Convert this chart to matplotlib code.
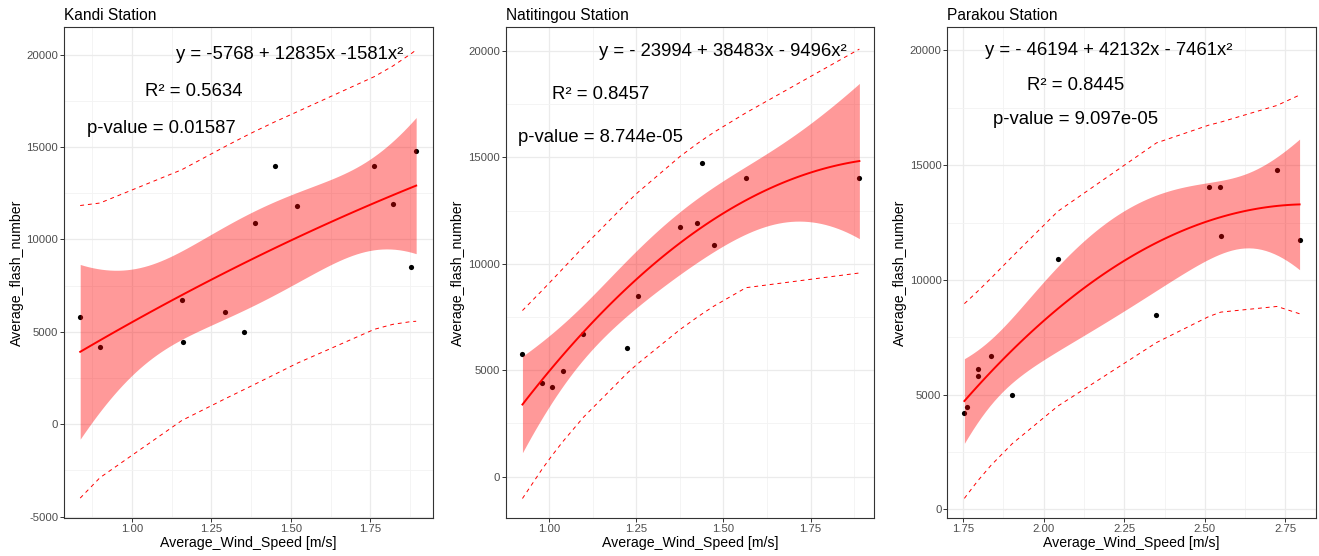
import numpy as np
import matplotlib.pyplot as plt
from matplotlib.ticker import MultipleLocator

plt.rcParams['font.family'] = ['Liberation Sans', 'DejaVu Sans']

# Monthly averages
kandi_wind = [0.838, 0.900, 1.157, 1.160, 1.294, 1.352, 1.389, 1.450, 1.519, 1.763, 1.821, 1.878, 1.894]
kandi_flash = [5800, 4200, 6700, 4450, 6100, 5000, 10900, 14000, 11800, 14000, 11900, 8500, 14800]

nati_wind = [0.924, 0.981, 1.009, 1.039, 1.099, 1.225, 1.254, 1.376, 1.425, 1.438, 1.473, 1.565, 1.890]
nati_flash = [5780, 4420, 4200, 4950, 6700, 6060, 8470, 11750, 11900, 14750, 10900, 14050, 14030]

para_wind = [1.754, 1.763, 1.796, 1.796, 1.836, 1.902, 2.044, 2.350, 2.512, 2.548, 2.550, 2.724, 2.794]
para_flash = [4200, 4450, 6100, 5800, 6700, 5000, 10900, 8470, 14050, 14050, 11900, 14800, 11750]

titles = ["Kandi Station", "Natitingou Station", "Parakou Station"]
equations = ["y = -5768 + 12835x -1581x\u00b2",
             "y = - 23994 + 38483x - 9496x\u00b2",
             "y = - 46194 + 42132x - 7461x\u00b2"]
r2_labels = ["R\u00b2 = 0.5634", "R\u00b2 = 0.8457", "R\u00b2 = 0.8445"]
p_labels = ["p-value = 0.01587", "p-value = 8.744e-05", "p-value = 9.097e-05"]

T_975 = 2.228  # t quantile for 95% level, 13 points - 3 coefficients

# layout per panel: axes rect, x limits, y limits, y tick step, annotation spots
panels = [
    dict(rect=[0.0485, 0.0678, 0.2798, 0.8836], xlim=(0.787, 1.947), ylim=(-5090, 21500),
         xmaj=np.arange(1.0, 1.80, 0.25), ymaj=np.arange(-5000, 20001, 5000),
         text_xy=[(1.497, 20000), (1.196, 18000), (1.094, 16000)]),
    dict(rect=[0.3834, 0.0678, 0.2795, 0.8836], xlim=(0.876, 1.933), ylim=(-1956, 21128),
         xmaj=np.arange(1.0, 1.80, 0.25), ymaj=np.arange(0, 20001, 5000),
         text_xy=[(1.499, 20000), (1.147, 17950), (1.149, 15950)]),
    dict(rect=[0.7182, 0.0678, 0.2793, 0.8836], xlim=(1.701, 2.844), ylim=(-392, 21020),
         xmaj=np.arange(1.75, 2.80, 0.25), ymaj=np.arange(0, 20001, 5000),
         text_xy=[(2.203, 20000), (2.099, 18450), (2.100, 16980)]),
]


def quad_fit(x, y, x_new):
    X = np.column_stack([np.ones_like(x), x, x ** 2])
    beta = np.linalg.lstsq(X, y, rcond=None)[0]
    resid = y - X @ beta
    s2 = resid @ resid / (len(x) - 3)
    xtx_inv = np.linalg.inv(X.T @ X)
    Xn = np.column_stack([np.ones_like(x_new), x_new, x_new ** 2])
    h = np.einsum('ij,jk,ik->i', Xn, xtx_inv, Xn)
    return Xn @ beta, np.sqrt(s2 * h), np.sqrt(s2 * (1 + h))


fig = plt.figure(figsize=(13.19, 5.56), dpi=100)
data = [(kandi_wind, kandi_flash), (nati_wind, nati_flash), (para_wind, para_flash)]

for i, (wind, flash) in enumerate(data):
    p = panels[i]
    x = np.array(wind, dtype=float)
    y = np.array(flash, dtype=float)
    order = np.argsort(x)
    xs = x[order]

    ax = fig.add_axes(p['rect'])

    # points first, then the smooth on top (as in ggplot)
    ax.scatter(x, y, s=14, color='black', zorder=3, linewidths=0)

    grid = np.linspace(x.min(), x.max(), 80)
    fit, se, _ = quad_fit(x, y, grid)
    ax.fill_between(grid, fit - T_975 * se, fit + T_975 * se, color='red', alpha=0.4,
                    linewidth=0, zorder=4)
    ax.plot(grid, fit, color='red', linewidth=1.4, zorder=5)

    # prediction interval at observed x
    pfit, _, se_pred = quad_fit(x, y, xs)
    ax.plot(xs, pfit + T_975 * se_pred, color='red', linewidth=0.7, linestyle=(0, (4, 4)), zorder=5)
    ax.plot(xs, pfit - T_975 * se_pred, color='red', linewidth=0.7, linestyle=(0, (4, 4)), zorder=5)

    for (tx, ty), txt in zip(p['text_xy'], [equations[i], r2_labels[i], p_labels[i]]):
        ax.text(tx, ty, txt, fontsize=13.3, ha='center', va='center', color='black', zorder=6)

    ax.set_xlim(p['xlim'])
    ax.set_ylim(p['ylim'])
    ax.set_xticks(p['xmaj'])
    ax.set_xticklabels([f"{v:.2f}" for v in p['xmaj']])
    ax.set_yticks(p['ymaj'])
    ax.set_yticklabels([f"{int(v)}" for v in p['ymaj']])
    ax.xaxis.set_minor_locator(MultipleLocator(0.125))
    ax.yaxis.set_minor_locator(MultipleLocator(2500))
    ax.grid(which='major', color='#EBEBEB', linewidth=0.9, zorder=0)
    ax.grid(which='minor', color='#F3F3F3', linewidth=0.6, zorder=0)
    ax.set_axisbelow(True)
    ax.tick_params(which='major', length=2.7, width=0.7, color='#333333',
                   labelsize=8.2, labelcolor='#4D4D4D', pad=1.5)
    ax.tick_params(which='minor', length=0)
    for sp in ax.spines.values():
        sp.set_color('#333333')
        sp.set_linewidth(0.8)

    ax.set_title(titles[i], loc='left', fontsize=11.2, pad=5)
    ax.set_xlabel("Average_Wind_Speed [m/s]", fontsize=10.2, labelpad=1.5)
    ax.set_ylabel("Average_flash_number", fontsize=10.2, labelpad=2)

fig.savefig("out.png", dpi=100)
